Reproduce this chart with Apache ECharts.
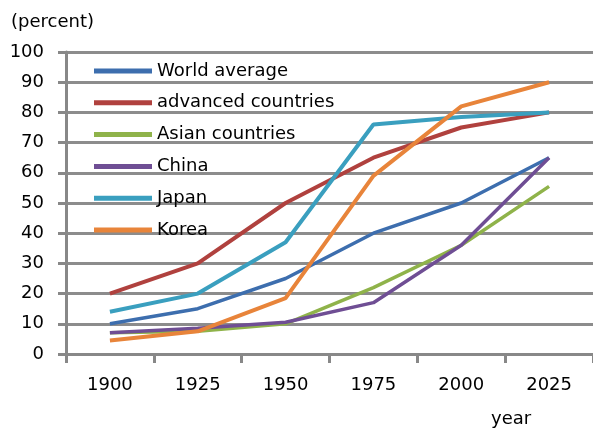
<!DOCTYPE html>
<html><head><meta charset="utf-8">
<script src="https://cdn.jsdelivr.net/npm/echarts@6/dist/echarts.min.js"></script>
<style>html,body{margin:0;padding:0;background:#fff}#c{width:593px;height:430px}</style>
</head><body><div id="c"></div>
<script>
const categories = ['1900','1925','1950','1975','2000','2025'];
const worldAverage = [10, 15, 25, 40, 50, 65];
const advancedCountries = [20, 30, 50, 65, 75, 80];
const asianCountries = [7, 7.5, 10, 22, 36, 55.5];
const china = [7, 8.5, 10.5, 17, 36, 65];
const japan = [14, 20, 37, 76, 78.5, 80];
const korea = [4.5, 7.5, 18.5, 59, 82, 90];
const yTicks = [0,10,20,30,40,50,60,70,80,90,100];

const font = 'DejaVu Sans';
const mk = (name, data, color, w) => ({
  name, type: 'line', data, symbol: 'none', smooth: false,
  lineStyle: { color, width: w }, itemStyle: { color }
});
const chart = echarts.init(document.getElementById('c'));
chart.setOption({
  animation: false,
  grid: { left: 66, right: 0, top: 52, bottom: 76 },
  title: [
    { text: '(percent)', left: 6, top: 8, textStyle: { fontFamily: font, fontSize: 18, fontWeight: 'normal', color: '#000' } },
    { text: 'year', left: 486, top: 405, textStyle: { fontFamily: font, fontSize: 18, fontWeight: 'normal', color: '#000' } }
  ],
  legend: {
    orient: 'vertical', left: 94, top: 62, padding: 0, itemWidth: 58, itemHeight: 5, itemGap: 13.8,
    icon: 'rect',
    textStyle: { fontFamily: font, fontSize: 18, lineHeight: 18, color: '#000' },
    data: ['World average','advanced countries','Asian countries','China','Japan','Korea']
  },
  xAxis: {
    type: 'category', data: categories, boundaryGap: true,
    axisLine: { lineStyle: { color: '#888', width: 3 } },
    axisTick: { show: true, length: 9, lineStyle: { color: '#888', width: 3 } },
    axisLabel: { fontFamily: font, fontSize: 18, color: '#000', margin: 22 }
  },
  yAxis: {
    type: 'value', min: 0, max: 100, interval: 10,
    axisLine: { show: true, lineStyle: { color: '#888', width: 3 } },
    axisTick: { show: true, length: 8, lineStyle: { color: '#888', width: 3 } },
    axisLabel: { fontFamily: font, fontSize: 18, color: '#000', margin: 22,
      formatter: v => yTicks.includes(v) ? String(v) : '' },
    splitLine: { lineStyle: { color: '#8c8c8c', width: 3 } }
  },
  series: [
    mk('World average', worldAverage, '#3d6eae', 3.5),
    mk('advanced countries', advancedCountries, '#b0413e', 4),
    mk('Asian countries', asianCountries, '#8fb34a', 3.5),
    mk('China', china, '#6f4e94', 3.5),
    mk('Japan', japan, '#3a9fbf', 4),
    mk('Korea', korea, '#e8843a', 4)
  ]
});
</script></body></html>
